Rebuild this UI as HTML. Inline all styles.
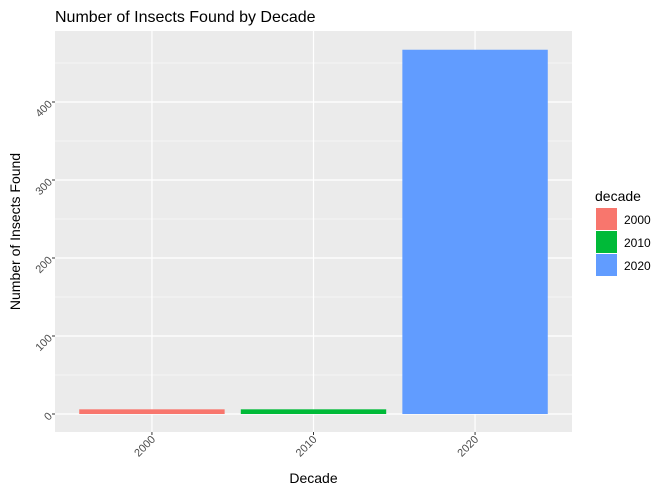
<!DOCTYPE html>
<html><head><meta charset="utf-8"><style>
body{margin:0;background:#fff;overflow:hidden;}
svg{display:block;font-family:"Liberation Sans",Arial,sans-serif;}
</style></head><body>
<svg id="chart" width="667" height="493"></svg>
<script>
const categories=["2000","2010","2020"];
const values=[6,6,467];
const colors=["#F8766D","#00BA38","#619CFF"];
const yTicks=[0,100,200,300,400];
const yMinor=[50,150,250,350,450];
const NS="http://www.w3.org/2000/svg";
const svg=document.getElementById('chart');
const L=55,R=572,T=31,B=432;
const y0=414,pxPer=0.78;
function y(v){return y0-v*pxPer;}
const unit=(R-L)/3.2;
function x(i){return L+(i+1-0.4)*unit;}
function mk(tag,attrs,parent){const e=document.createElementNS(NS,tag);for(const k in attrs)e.setAttribute(k,attrs[k]);(parent||svg).appendChild(e);return e;}
const panel=mk('rect',{x:L,y:T,width:R-L,height:B-T,fill:'#EBEBEB'});


yMinor.forEach(v=>{const l=mk('line',{x1:L,x2:R,y1:y(v),y2:y(v),stroke:'#fff','stroke-width':0.6});

});
yTicks.forEach(v=>{const l=mk('line',{x1:L,x2:R,y1:y(v),y2:y(v),stroke:'#fff','stroke-width':1.2});


mk('line',{x1:L-3,x2:L,y1:y(v),y2:y(v),stroke:'#333','stroke-width':1});
const tx=mk('text',{x:L-5,y:y(v)+4,'font-size':11,fill:'#4D4D4D','text-anchor':'end',transform:`rotate(-45 ${L-5} ${y(v)})`});
tx.textContent=v;

});
categories.forEach((c,i)=>{const cx=x(i);
const g=mk('line',{x1:cx,x2:cx,y1:T,y2:B,stroke:'#fff','stroke-width':1.2});

});
categories.forEach((c,i)=>{const cx=x(i),w=0.9*unit;
const b=mk('rect',{x:cx-w/2,y:y(values[i]),width:w,height:y(0)-y(values[i]),fill:colors[i]});


mk('line',{x1:cx,x2:cx,y1:B,y2:B+3,stroke:'#333','stroke-width':1});
const t=mk('text',{x:cx+4,y:B+8,'font-size':11,fill:'#4D4D4D','text-anchor':'end',transform:`rotate(-45 ${cx+4} ${B+8})`});
t.textContent=c;

});
const title=mk('text',{x:L,y:22,'font-size':16,fill:'#000'});title.textContent='Number of Insects Found by Decade';


const xt=mk('text',{x:(L+R)/2,y:483,'font-size':14,fill:'#000','text-anchor':'middle'});xt.textContent='Decade';


const yt=mk('text',{x:20,y:(T+B)/2,'font-size':14,fill:'#000','text-anchor':'middle',transform:`rotate(-90 20 ${(T+B)/2})`});yt.textContent='Number of Insects Found';


const lt=mk('text',{x:595,y:201,'font-size':14,fill:'#000'});lt.textContent='decade';


categories.forEach((c,i)=>{const ky=208+i*23;
const k=mk('rect',{x:596,y:ky,width:21,height:22,fill:colors[i]});


const t=mk('text',{x:624,y:ky+16,'font-size':12,fill:'#000'});t.textContent=c;

});
</script>
</body></html>
